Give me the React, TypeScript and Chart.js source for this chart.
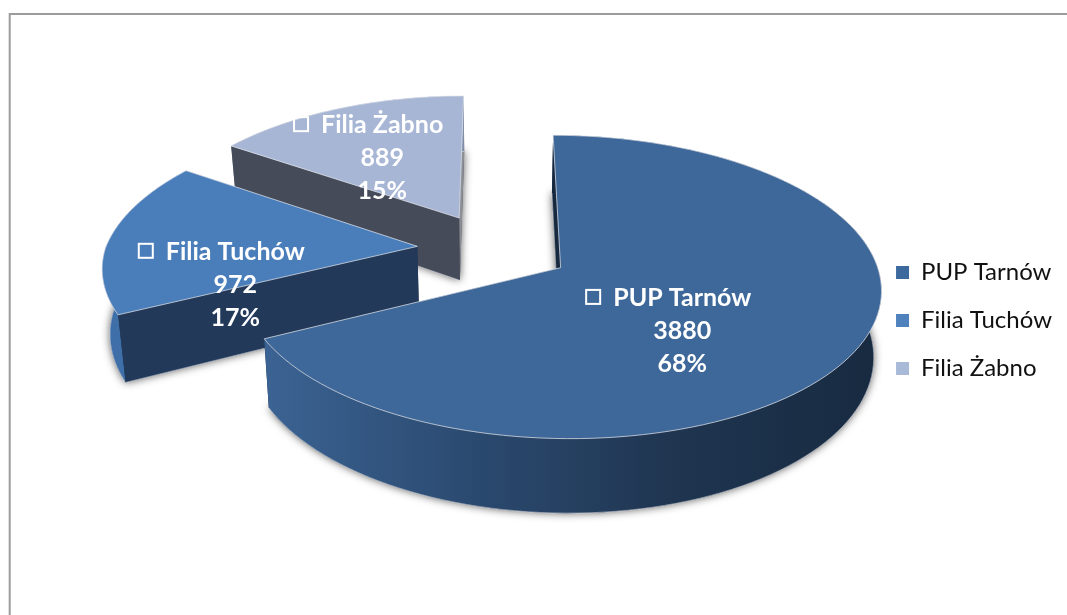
import React, { useEffect, useRef } from "react";
import { Chart, registerables } from "chart.js";

Chart.register(...registerables);

const categories = ["PUP Tarnów", "Filia Tuchów", "Filia Żabno"];
const values = [3880, 972, 889];
const percents = ["68%", "17%", "15%"];
const topColors = ["#3e6899", "#4a7ebb", "#a7b6d5"];
const legendColors = ["#3d6a9e", "#4f81bd", "#a9b9d8"];
const faceColors = ["#17293f", "#22395a", "#454b59"];
const endFaceColors = ["#17293f", "#22395a", "#8c8f96"];
const rimStops: string[][] = [
  ["#3b6393", "#2b4a70", "#1f3550", "#172a40"],
  ["#3f6fa8", "#3f6fa8"],
  ["#7f8ea8", "#7f8ea8"],
];
// label anchor inside each slice: share of the slice's sweep, share of its radius
const labelSweep = [0.57, 0.03, 0.44];
const labelRadius = [0.535, 0.615, 0.54];

// view of the flat pie: a tilted camera with a little perspective
const VIEW = { cx: 494, cy: 248.7, radius: 312, explode: 77, tilt: 0.463, persp: 0.0004, depth: 64, floor: 0.98 };
const FONT = "Lato, 'Open Sans', sans-serif";

type P = { x: number; y: number };
const scale = (Y: number) => 1 / (1 + VIEW.persp * Y);
const xScale = (X: number, Y: number) => {
  const s = scale(Y);
  return X < 0 && Y > 0 ? Math.pow(s, 1.2) : s;
};
const top = (X: number, Y: number): P => ({
  x: VIEW.cx + X * xScale(X, Y),
  y: VIEW.cy - VIEW.tilt * Y * scale(Y),
});
const bottom = (X: number, Y: number): P => ({
  x: VIEW.cx + X * xScale(X, Y) * VIEW.floor,
  y: VIEW.cy - VIEW.tilt * Y * scale(Y) + VIEW.depth * scale(Y),
});
const trace = (ctx: CanvasRenderingContext2D, pts: P[]) => {
  ctx.beginPath();
  pts.forEach((p, i) => (i ? ctx.lineTo(p.x, p.y) : ctx.moveTo(p.x, p.y)));
  ctx.closePath();
};

const frame = {
  id: "frame",
  beforeDraw(chart: any) {
    const ctx = chart.ctx;
    ctx.save();
    ctx.strokeStyle = "#9c9c9c";
    ctx.lineWidth = 2;
    ctx.beginPath();
    ctx.moveTo(9.7, chart.height);
    ctx.lineTo(9.7, 14);
    ctx.lineTo(chart.width, 14);
    ctx.stroke();
    ctx.restore();
  },
};

const pie3d = {
  id: "pie3d",
  beforeDatasetsDraw(chart: any) {
    const ctx: CanvasRenderingContext2D = chart.ctx;
    const arcs = chart.getDatasetMeta(0).data as any[];
    const geo = arcs.map((arc) => {
      const mid = (arc.startAngle + arc.endAngle) / 2;
      const ox = Math.cos(mid) * VIEW.explode;
      const oy = -Math.sin(mid) * VIEW.explode;
      const rim: [number, number][] = [];
      const n = 120;
      for (let i = 0; i <= n; i++) {
        const a = arc.startAngle + ((arc.endAngle - arc.startAngle) * i) / n;
        rim.push([ox + VIEW.radius * Math.cos(a), oy - VIEW.radius * Math.sin(a)]);
      }
      return { ox, oy, rim, arc };
    });

    ctx.save();
    for (let i = geo.length - 1; i >= 0; i--) {
      const { ox, oy, rim } = geo[i];
      const apexT = top(ox, oy);
      const apexB = bottom(ox, oy);
      const rimT = rim.map(([X, Y]) => top(X, Y));
      const rimB = rim.map(([X, Y]) => bottom(X, Y));

      // soft shadow of the slice's floor
      ctx.save();
      ctx.shadowColor = "rgba(0,0,0,0.65)";
      ctx.shadowBlur = 8;
      ctx.fillStyle = faceColors[i];
      trace(ctx, [apexB, ...rimB]);
      ctx.fill();
      ctx.restore();

      // far cut face, then outer wall, then near cut face
      ctx.fillStyle = endFaceColors[i];
      trace(ctx, [apexT, rimT[rimT.length - 1], rimB[rimB.length - 1], apexB]);
      ctx.fill();

      const xs = rimT.map((p) => p.x);
      const grad = ctx.createLinearGradient(i === 0 ? rimT[rimT.length - 1].x : Math.min(...xs), 0, Math.max(...xs), 0);
      rimStops[i].forEach((c, k) => grad.addColorStop(k / (rimStops[i].length - 1), c));
      ctx.fillStyle = grad;
      trace(ctx, [...rimT, ...rimB.slice().reverse()]);
      ctx.fill();
      ctx.strokeStyle = "rgba(225,228,235,0.55)";
      ctx.lineWidth = 1;
      ctx.beginPath();
      rimB.forEach((p, k) => (k ? ctx.lineTo(p.x, p.y) : ctx.moveTo(p.x, p.y)));
      ctx.stroke();

      ctx.fillStyle = faceColors[i];
      trace(ctx, [apexT, rimT[0], rimB[0], apexB]);
      ctx.fill();
      ctx.strokeStyle = "rgba(225,228,235,0.55)";
      ctx.beginPath();
      ctx.moveTo(rimB[0].x, rimB[0].y);
      ctx.lineTo(apexB.x, apexB.y);
      ctx.stroke();

      // top
      ctx.fillStyle = topColors[i];
      trace(ctx, [apexT, ...rimT]);
      ctx.fill();
      ctx.strokeStyle = "rgba(225,228,235,0.75)";
      ctx.lineWidth = 1;
      ctx.stroke();
    }

    // data labels
    ctx.fillStyle = "#ffffff";
    ctx.textAlign = "center";
    ctx.textBaseline = "middle";
    geo.forEach(({ ox, oy, arc }, i) => {
      const a = arc.startAngle + (arc.endAngle - arc.startAngle) * labelSweep[i];
      const r = VIEW.radius * labelRadius[i];
      const c = top(ox + r * Math.cos(a), oy - r * Math.sin(a));
      ctx.font = `bold 25px ${FONT}`;
      const w = ctx.measureText(categories[i]).width;
      ctx.fillText(categories[i], c.x, c.y - 33);
      ctx.fillText(String(values[i]), c.x, c.y);
      ctx.fillText(percents[i], c.x, c.y + 33);
      ctx.strokeStyle = "#ffffff";
      ctx.lineWidth = 2;
      ctx.strokeRect(c.x - w / 2 - 27, c.y - 33 - 8, 14, 14);
    });
    ctx.restore();
    return false;
  },
};

export default function App() {
  const ref = useRef<HTMLCanvasElement>(null);
  useEffect(() => {
    const chart = new Chart(ref.current!, {
      type: "pie",
      data: {
        labels: categories,
        datasets: [{ data: values, backgroundColor: legendColors, borderWidth: 0 }],
      },
      options: {
        responsive: false,
        animation: false,
        layout: { padding: { top: 26, right: 5 } },
        plugins: {
          tooltip: { enabled: false },
          legend: {
            position: "right",
            labels: {
              boxWidth: 13,
              boxHeight: 13,
              padding: 24,
              color: "#111111",
              font: { family: FONT, size: 24 },
            },
          },
        },
      },
      plugins: [frame, pie3d],
    } as any);
    return () => chart.destroy();
  }, []);
  return (
    <div style={{ position: "absolute", left: 0, top: 0, width: 1067, height: 615 }}>
      <canvas ref={ref} width={1067} height={615} style={{ display: "block" }} />
    </div>
  );
}
